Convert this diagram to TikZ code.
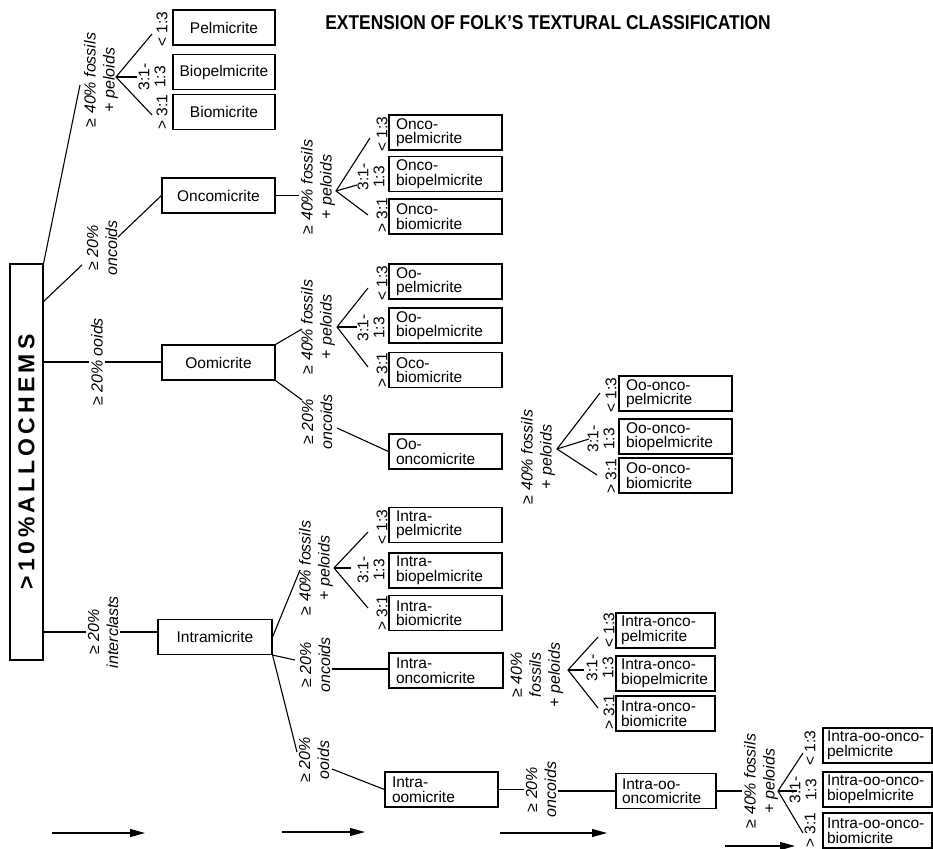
\documentclass[tikz,border=0pt]{standalone}
\usepackage{fontspec}
\setmainfont{Liberation Sans}
\newfontfamily\titlefont[FakeStretch=0.87]{Liberation Sans}
\usetikzlibrary{arrows.meta,calc}
\newcommand{\mygeq}{\textup{≥}}
\tikzset{
  ln/.style={line width=1.1pt},
  bx/.style={draw, line width=1.1pt, minimum height=35pt, inner sep=0pt, font=\fontsize{15.5}{14.5}\selectfont},
  bxl/.style={bx, align=left, inner xsep=7pt},
  lab/.style={rotate=90, align=center, inner sep=2pt, font=\fontsize{16}{19}\selectfont\itshape},
  rat/.style={rotate=90, align=center, inner sep=0pt, font=\fontsize{15.5}{16}\selectfont},
  arr/.style={line width=1.1pt, -{Triangle[length=15pt,width=8pt]}},
}
\begin{document}
\begin{tikzpicture}[x=1pt,y=-1pt]
\useasboundingbox (0,0) rectangle (933,848);

% title
\node[font=\titlefont\bfseries\fontsize{20}{24}\selectfont] (title) at (548,23) {EXTENSION OF FOLK’S TEXTURAL CLASSIFICATION};

% main box
\node[draw, line width=1.1pt, minimum width=33pt, minimum height=396pt, inner sep=0pt] (main) at (26.5,462) {};
\node[rotate=90, inner sep=0pt, font=\bfseries\fontsize{23}{27}\selectfont\addfontfeatures{LetterSpace=18}] (maintxt) at (26.5,462) {>10\%ALLOCHEMS};

% ---------- G1: >=40% fossils + peloids (top)
\coordinate (g1b) at (80,85);
\node[lab] (l1) at (101,80) {\mygeq{} 40\% fossils\\+ peloids};
\draw[ln] (main.north east) -- (g1b);
\coordinate (f1) at (116,77);
\coordinate (f1a) at (152,34);
\coordinate (f1b) at (137,77);
\coordinate (f1c) at (152,115);
\draw[ln] (f1a) -- (f1) -- (f1c);
\draw[ln] (f1) -- (f1b);
\node[rat] (r1a) at (162,29) {< 1:3};
\node[rat] (r1b) at (152,77) {3:1-\\1:3};
\node[rat] (r1c) at (162,112) {> 3:1};
\node[bx, minimum width=102pt] (pel) at (224,27.5) {Pelmicrite};
\node[bx, minimum width=102pt] (biopel) at (224,72) {Biopelmicrite};
\node[bx, minimum width=102pt] (biomic) at (224,112) {Biomicrite};

% ---------- G2: >=20% oncoids
\coordinate (g2a) at (43,302);
\coordinate (g2b) at (82,265);
\node[lab] (l2) at (102,248) {\mygeq{} 20\%\\oncoids};
\coordinate (g2c) at (118,237);
\node[bx, minimum width=113pt] (onc) at (218.5,195.5) {Oncomicrite};
\draw[ln] (g2a) -- (g2b);
\draw[ln] (g2c) -- (onc.west);

% ---------- G3: >=20% ooids
\coordinate (g3a) at (43,362);
\node[lab] (l3) at (97,362) {\mygeq{} 20\% ooids};
\node[bx, minimum width=113pt] (oom) at (218.5,362.5) {Oomicrite};
\draw[ln] (g3a) -- (l3.north);
\draw[ln] (l3.south) -- (l3.south -| oom.west);

% ---------- G4: >=20% interclasts
\coordinate (g4a) at (43,632);
\node[lab] (l4) at (103,632) {\mygeq{} 20\%\\interclasts};
\node[bx, minimum width=114pt] (intra) at (215,637) {Intramicrite};
\draw[ln] (g4a) -- (l4.north);
\draw[ln] (l4.south) -- (l4.south -| intra.west);

% ---------- G5: onco fossils
\node[lab] (l5) at (318,187) {\mygeq{} 40\% fossils\\+ peloids};
\draw[ln] (onc.east) -- (onc.east -| l5.north);
\coordinate (f5) at (336,191);
\coordinate (f5a) at (370,138);
\coordinate (f5b) at (357,185);
\coordinate (f5c) at (368,215);
\draw[ln] (f5a) -- (f5) -- (f5c);
\draw[ln] (f5) -- (f5b);
\node[rat] (r5a) at (382,134) {< 1:3};
\node[rat] (r5b) at (371,177) {3:1-\\1:3};
\node[rat] (r5c) at (382,215) {> 3:1};
\node[bxl, text width=99pt] (op) at (445.5,132.5) {Onco-\\pelmicrite};
\node[bxl, text width=99pt] (obp) at (445.5,174) {Onco-\\biopelmicrite};
\node[bxl, text width=99pt] (obm) at (445.5,216.5) {Onco-\\biomicrite};

% ---------- G6: oo fossils
\coordinate (g6b) at (302,329);
\node[lab] (l6) at (318,327) {\mygeq{} 40\% fossils\\+ peloids};
\draw[ln] (oom.north east) -- (g6b);
\coordinate (f6) at (337,327);
\coordinate (f6a) at (368,288);
\coordinate (f6b) at (357,327);
\coordinate (f6c) at (368,367);
\draw[ln] (f6a) -- (f6) -- (f6c);
\draw[ln] (f6) -- (f6b);
\node[rat] (r6a) at (382,283) {< 1:3};
\node[rat] (r6b) at (371,328) {3:1-\\1:3};
\node[rat] (r6c) at (382,370) {> 3:1};
\node[bxl, text width=99pt] (oop) at (445.5,281.5) {Oo-\\pelmicrite};
\node[bxl, text width=99pt] (oobp) at (445.5,325.5) {Oo-\\biopelmicrite};
\node[bxl, text width=99pt] (oobm) at (445.5,370) {Oco-\\biomicrite};

% ---------- G7: oo oncoids
\coordinate (g7b) at (302,400);
\node[lab] (l7) at (317,422) {\mygeq{} 20\%\\oncoids};
\coordinate (g7c) at (337,428);
\node[bxl, text width=99pt] (oooc) at (445.5,451.5) {Oo-\\oncomicrite};
\draw[ln] (oom.south east) -- (g7b);
\draw[ln] (g7c) -- (oooc.west);

% ---------- G8: oo-onco fossils
\node[lab] (l8) at (538,457) {\mygeq{} 40\% fossils\\+ peloids};
\coordinate (f8) at (557,449);
\coordinate (f8a) at (600,393);
\coordinate (f8b) at (589,439);
\coordinate (f8c) at (597,475);
\draw[ln] (f8a) -- (f8) -- (f8c);
\draw[ln] (f8) -- (f8b);
\node[rat] (r8a) at (611,395) {< 1:3};
\node[rat] (r8b) at (601,439) {3:1-\\1:3};
\node[rat] (r8c) at (611,476) {> 3:1};
\node[bxl, text width=99pt] (ooop) at (675.5,393.5) {Oo-onco-\\pelmicrite};
\node[bxl, text width=99pt] (ooobp) at (675.5,436.5) {Oo-onco-\\biopelmicrite};
\node[bxl, text width=99pt] (ooobm) at (675.5,475.5) {Oo-onco-\\biomicrite};

% ---------- G9: intra fossils
\coordinate (g9b) at (300,570);
\node[lab] (l9) at (316,568) {\mygeq{} 40\% fossils\\+ peloids};
\draw[ln] (intra.east) -- (g9b);
\coordinate (f9) at (334,568);
\coordinate (f9a) at (368,532);
\coordinate (f9b) at (351,568);
\coordinate (f9c) at (368,608);
\draw[ln] (f9a) -- (f9) -- (f9c);
\draw[ln] (f9) -- (f9b);
\node[rat] (r9a) at (382,527) {< 1:3};
\node[rat] (r9b) at (371,570) {3:1-\\1:3};
\node[rat] (r9c) at (382,613) {> 3:1};
\node[bxl, text width=99pt] (ip) at (445.5,525) {Intra-\\pelmicrite};
\node[bxl, text width=99pt] (ibp) at (445.5,570.5) {Intra-\\biopelmicrite};
\node[bxl, text width=99pt] (ibm) at (445.5,613) {Intra-\\biomicrite};

% ---------- G10: intra oncoids
\coordinate (g10b) at (295,660);
\node[lab] (l10) at (315,665) {\mygeq{} 20\%\\oncoids};
\coordinate (g10c) at (332,669);
\node[bxl, text width=100pt] (ioc) at (446,670.5) {Intra-\\oncomicrite};
\draw[ln] (intra.south east) -- (g10b);
\draw[ln] (g10c) -- (g10c -| ioc.west);

% ---------- G11: intra-onco fossils
\node[lab] (l11) at (537,675) {\mygeq{} 40\%\\fossils\\+ peloids};
\coordinate (f11) at (568,670);
\coordinate (f11a) at (598,637);
\coordinate (f11b) at (584,670);
\coordinate (f11c) at (598,708);
\draw[ln] (f11a) -- (f11) -- (f11c);
\draw[ln] (f11) -- (f11b);
\node[rat] (r11a) at (609,630) {< 1:3};
\node[rat] (r11b) at (600,668) {3:1-\\1:3};
\node[rat] (r11c) at (609,712) {> 3:1};
\node[bxl, inner xsep=5pt, text width=89pt] (iop) at (665.5,630.5) {Intra-onco-\\pelmicrite};
\node[bxl, inner xsep=5pt, text width=89pt] (iobp) at (665.5,673.5) {Intra-onco-\\biopelmicrite};
\node[bxl, inner xsep=5pt, text width=89pt] (iobm) at (665.5,713.5) {Intra-onco-\\biomicrite};

% ---------- G12: intra ooids
\coordinate (g12b) at (297,752);
\node[lab] (l12) at (314,760) {\mygeq{} 20\%\\ooids};
\coordinate (g12c) at (332,769);
\node[bxl, text width=99pt] (ioo) at (441.5,789.5) {Intra-\\oomicrite};
\draw[ln] (intra.south east) -- (g12b);
\draw[ln] (g12c) -- (ioo.west);

% ---------- G13: intra-oo oncoids
\node[lab] (l13) at (541,789.5) {\mygeq{} 20\%\\oncoids};
\node[bxl, inner xsep=6pt, text width=88pt] (iooc) at (666,791) {Intra-oo-\\oncomicrite};
\draw[ln] (ioo.east) -- (ioo.east -| l13.north);
\draw[ln] (l13.south |- iooc.west) -- (iooc.west);

% ---------- G14: intra-oo-onco fossils
\node[lab] (l14) at (761,781) {\mygeq{} 40\% fossils\\+ peloids};
\draw[ln] (iooc.east) -- (iooc.east -| l14.north);
\coordinate (f14) at (778,791);
\coordinate (f14a) at (803,753);
\coordinate (f14b) at (797,791);
\coordinate (f14c) at (803,833);
\draw[ln] (f14a) -- (f14) -- (f14c);
\draw[ln] (f14) -- (f14b);
\node[rat] (r14a) at (810,748) {< 1:3};
\node[rat] (r14b) at (803,790) {3:1-\\1:3};
\node[rat] (r14c) at (810,830) {> 3:1};
\node[bxl, inner xsep=4pt, text width=101pt] (ioop) at (877.5,745.5) {Intra-oo-onco-\\pelmicrite};
\node[bxl, inner xsep=4pt, text width=101pt] (ioobp) at (877.5,789.5) {Intra-oo-onco-\\biopelmicrite};
\node[bxl, inner xsep=4pt, text width=101pt] (ioobm) at (877.5,830.5) {Intra-oo-onco-\\biomicrite};

% ---------- arrows
\coordinate (a1s) at (52,833);  \coordinate (a1e) at (145,833);
\coordinate (a2s) at (282,832); \coordinate (a2e) at (365,832);
\coordinate (a3s) at (500,833); \coordinate (a3e) at (607,833);
\coordinate (a4s) at (725,846); \coordinate (a4e) at (795,846);
\draw[arr] (a1s) -- (a1e);
\draw[arr] (a2s) -- (a2e);
\draw[arr] (a3s) -- (a3e);
\draw[arr] (a4s) -- (a4e);
\end{tikzpicture}
\end{document}
